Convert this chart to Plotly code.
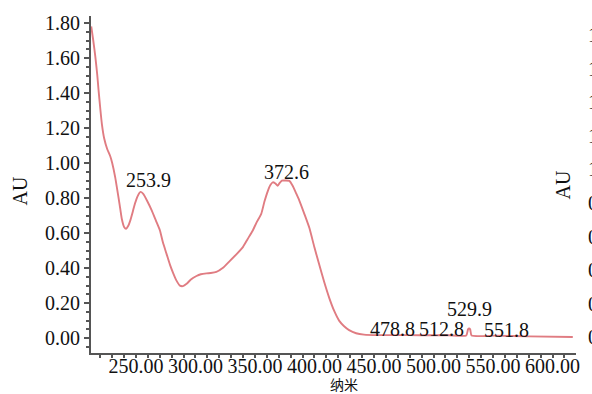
import plotly.graph_objects as go

# UV-Vis absorption spectrum
wavelength_nm = [
    212.5, 214.2, 215.9, 217.6, 218.6, 220.1, 221.5, 223.4, 225.9, 228.4,
    230.1, 232.6, 234.3, 236.4, 238.2, 240.1, 241.8, 243.5, 245.2, 247.7,
    249.3, 251.4, 253.9, 256.0, 259.4, 263.3, 266.9, 270.2, 272.7, 275.8,
    278.6, 281.4, 284.0, 287.0, 289.5, 292.6, 296.2, 300.9, 304.5, 309.3,
    312.9, 317.6, 322.9, 328.8, 334.6, 339.9, 343.8, 348.2, 351.3, 355.3,
    358.0, 360.8, 363.0, 365.0, 367.2, 369.1, 371.0, 372.6, 375.6, 378.9,
    381.7, 384.4, 387.3, 391.5, 395.7, 399.9, 404.0, 408.2, 412.4, 416.6,
    420.7, 424.9, 429.1, 435.0, 441.6, 454.2, 478.8, 500.0, 512.8, 527.5,
    529.0, 529.9, 530.8, 532.0, 551.8, 580.0, 617.0,
]
absorbance_au = [
    1.78, 1.70, 1.61, 1.50, 1.42, 1.31, 1.22, 1.14, 1.08, 1.04,
    1.00, 0.92, 0.85, 0.76, 0.68, 0.635, 0.625, 0.64, 0.67, 0.73,
    0.77, 0.81, 0.835, 0.825, 0.785, 0.73, 0.67, 0.615, 0.547, 0.48,
    0.42, 0.37, 0.33, 0.30, 0.297, 0.31, 0.335, 0.355, 0.365, 0.37,
    0.372, 0.378, 0.40, 0.44, 0.48, 0.52, 0.565, 0.615, 0.66, 0.71,
    0.78, 0.84, 0.875, 0.89, 0.883, 0.87, 0.888, 0.90, 0.90, 0.898,
    0.87, 0.83, 0.786, 0.71, 0.63, 0.52, 0.42, 0.32, 0.23, 0.155,
    0.10, 0.068, 0.046, 0.028, 0.020, 0.017, 0.017, 0.016, 0.016, 0.015,
    0.050, 0.055, 0.050, 0.015, 0.014, 0.010, 0.006,
]

# labelled peaks
peak_labels = [253.9, 372.6, 478.8, 512.8, 529.9, 551.8]

# axis ticks
x_ticks = [250, 300, 350, 400, 450, 500, 550, 600]
y_ticks = [0.0, 0.2, 0.4, 0.6, 0.8, 1.0, 1.2, 1.4, 1.6, 1.8]

# tick labels of the neighbouring panel, cut off at the right edge
neighbour_ticks = ["1.80", "1.60", "1.40", "1.20", "1.00",
                   "0.80", "0.60", "0.40", "0.20", "0.00"]

SERIF = "Liberation Serif"
CJK = "Noto Sans CJK SC"
LINE_RED = "#e07c82"
AXIS_GREY = "#555555"
TEXT = "#111111"
FS = 20

# label offsets (px) so neighbouring labels don't collide
label_shift = {
    253.9: (8, -1),
    372.6: (5, -4),
    478.8: (-16, -7),
    512.8: (-7, -7),
    529.9: (0, 6),
    551.8: (11, -7),
}

fig = go.Figure()
fig.add_trace(go.Scatter(
    x=wavelength_nm, y=absorbance_au, mode="lines",
    line=dict(color=LINE_RED, width=1.9, shape="spline", smoothing=0.5),
    hoverinfo="skip", showlegend=False,
))

for wl in peak_labels:
    i = wavelength_nm.index(wl)
    dx, dy = label_shift[wl]
    fig.add_annotation(
        x=wl, y=absorbance_au[i], text=f"{wl:.1f}", showarrow=False,
        xanchor="center", yanchor="bottom", xshift=dx, yshift=dy,
        font=dict(family=SERIF, size=FS, color=TEXT),
    )

# axis titles
fig.add_annotation(
    x=-0.146, y=0.48, xref="paper", yref="paper", text="AU", textangle=-90,
    showarrow=False, xanchor="center", yanchor="middle",
    font=dict(family=SERIF, size=FS, color=TEXT),
)
fig.add_annotation(
    x=0.522, y=-0.092, xref="paper", yref="paper", text="纳米",
    showarrow=False, xanchor="center", yanchor="middle",
    font=dict(family=CJK, size=14, color=TEXT),
)

# neighbouring panel: title and clipped tick labels
fig.add_annotation(
    x=0.973, y=0.5, xref="paper", yref="paper", text="AU", textangle=-90,
    showarrow=False, xanchor="center", yanchor="middle",
    font=dict(family=SERIF, size=FS, color=TEXT),
)
n = len(neighbour_ticks)
for k, lab in enumerate(neighbour_ticks):
    fig.add_annotation(
        x=1.0205, y=0.943 - k * (0.943 - 0.047) / (n - 1),
        xref="paper", yref="paper", text=lab, showarrow=False,
        xanchor="left", yanchor="middle",
        font=dict(family=SERIF, size=FS, color=TEXT),
    )

fig.update_layout(
    width=592, height=394,
    margin=dict(l=91, r=14, t=15, b=41),
    paper_bgcolor="white", plot_bgcolor="white",
    font=dict(family=SERIF, size=FS, color=TEXT),
)
fig.update_xaxes(
    range=[212.3, 619.7], tickvals=x_ticks,
    ticktext=[f"{v:.2f}" for v in x_ticks],
    showline=True, linecolor=AXIS_GREY, linewidth=2,
    ticks="outside", ticklen=3, tickcolor=AXIS_GREY, tickwidth=1.5,
    minor=dict(dtick=10, ticks="outside", ticklen=3, tickcolor=AXIS_GREY),
    showgrid=False, zeroline=False, ticklabelstandoff=-9,
    tickfont=dict(family=SERIF, size=FS, color=TEXT),
)
fig.update_yaxes(
    range=[-0.085, 1.84], tickvals=y_ticks,
    ticktext=[f"{v:.2f}" for v in y_ticks],
    showline=True, linecolor=AXIS_GREY, linewidth=2,
    ticks="outside", ticklen=5, tickcolor=AXIS_GREY, tickwidth=1.5,
    minor=dict(dtick=0.05, ticks="outside", ticklen=3, tickcolor=AXIS_GREY),
    showgrid=False, zeroline=False,
    tickfont=dict(family=SERIF, size=FS, color=TEXT),
)

fig.write_html("out.html")
